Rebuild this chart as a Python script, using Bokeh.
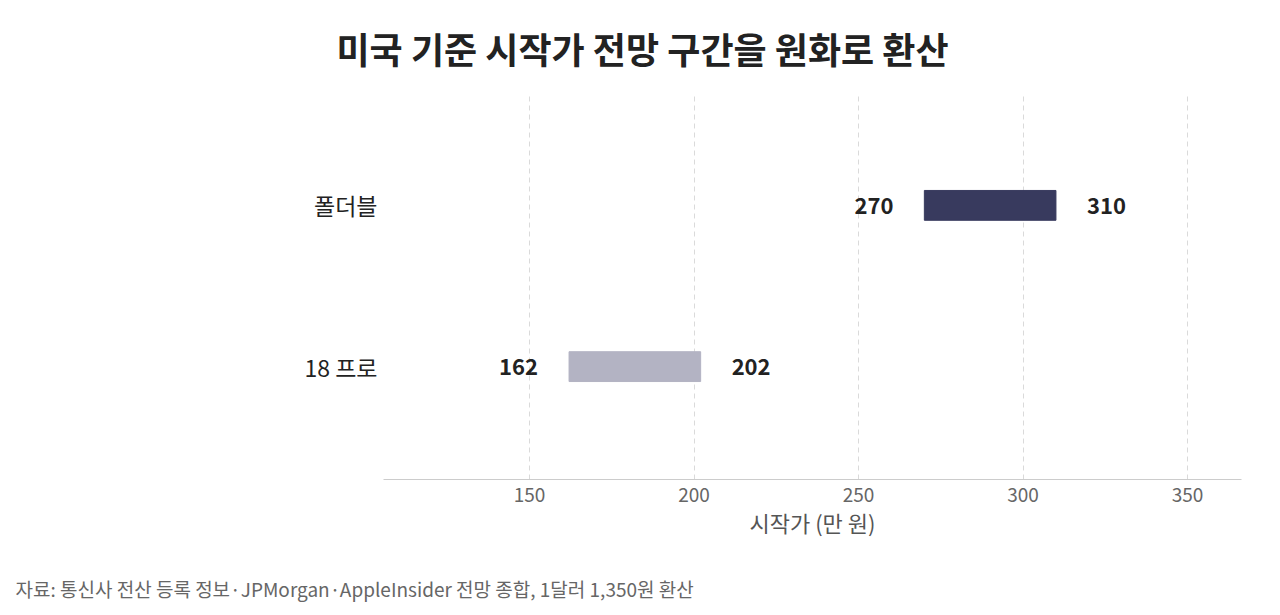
from bokeh.plotting import figure
from bokeh.models import ColumnDataSource, Title, FactorRange
from bokeh.core.properties import value
from bokeh.embed import file_html
from bokeh.resources import INLINE

FONT = "Noto Sans CJK KR"

# data (만 원)
models = ["18 프로", "폴더블"]
low = [162, 270]
high = [202, 310]
colors = ["#b3b3c3", "#383a5e"]
ticks = [150, 200, 250, 300, 350]

src = ColumnDataSource(data=dict(model=models, low=low, high=high, color=colors,
                                 low_txt=[str(v) for v in low],
                                 high_txt=[str(v) for v in high]))

p = figure(width=1264, height=611, y_range=FactorRange(*models, range_padding=0.2),
           x_range=(105.6, 366.4), output_backend="svg", toolbar_location=None,
           min_border_left=383, min_border_right=23, min_border_top=92,
           min_border_bottom=132)
p.outline_line_color = None

p.hbar(y="model", left="low", right="high", height=0.185, color="color", source=src)

p.text(x="low", y="model", text="low_txt", source=src, x_offset=-31,
       text_align="right", text_baseline="middle", text_font=value(FONT),
       text_font_size="22px", text_font_style="bold", text_color="#222222")
p.text(x="high", y="model", text="high_txt", source=src, x_offset=31,
       text_align="left", text_baseline="middle", text_font=value(FONT),
       text_font_size="22px", text_font_style="bold", text_color="#222222")

# grid
p.ygrid.grid_line_color = None
p.xgrid.grid_line_color = "#dadada"
p.xgrid.grid_line_dash = "5 4"
p.xgrid.ticker = ticks

# x axis
p.xaxis.ticker = ticks
p.xaxis.axis_label = "시작가 (만 원)"
p.xaxis.axis_label_text_font = FONT
p.xaxis.axis_label_text_font_style = "normal"
p.xaxis.axis_label_text_font_size = "22px"
p.xaxis.axis_label_text_color = "#555555"
p.xaxis.axis_label_standoff = 1
p.xaxis.major_label_text_font = FONT
p.xaxis.major_label_text_font_size = "19px"
p.xaxis.major_label_text_color = "#666666"
p.xaxis.major_label_standoff = 2
p.xaxis.axis_line_color = "#cccccc"
p.xaxis.major_tick_line_color = None
p.xaxis.minor_tick_line_color = None

# y axis
p.yaxis.axis_line_color = None
p.yaxis.major_tick_line_color = None
p.yaxis.minor_tick_line_color = None
p.yaxis.major_label_text_font = FONT
p.yaxis.major_label_text_font_size = "23px"
p.yaxis.major_label_text_color = "#222222"
p.yaxis.major_label_standoff = 0

p.title = Title(text="미국 기준 시작가 전망 구간을 원화로 환산", align="left",
                offset=-47, standoff=38, text_font=FONT, text_font_size="36px",
                text_font_style="bold", text_color="#222222",
                text_line_height=0.8)

# spacer between axis label and source note
p.add_layout(Title(text=" ", text_font_size="18px"), "below")
p.add_layout(Title(text="자료: 통신사 전산 등록 정보·JPMorgan·AppleInsider 전망 종합, 1달러 1,350원 환산",
                   align="left", offset=-368, standoff=0, text_font=FONT,
                   text_font_size="19px", text_font_style="normal",
                   text_color="#666666"), "below")

open("out.html", "w").write(file_html(p, INLINE))
